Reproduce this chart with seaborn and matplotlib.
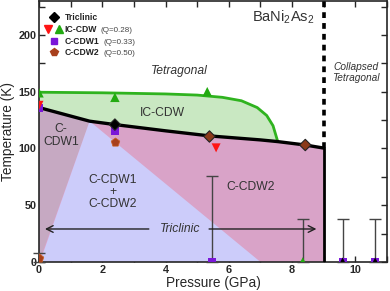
import numpy as np
import pandas as pd
import matplotlib
matplotlib.use("Agg")
import matplotlib.pyplot as plt
import seaborn as sns
from matplotlib.legend_handler import HandlerTuple
from matplotlib.lines import Line2D

# --- phase boundaries ---
cdw_line_p = [0, 1.6, 2.4, 4.0, 5.4, 7.0, 7.55, 8.42, 9.0]
cdw_line_T = [136, 124, 121, 115.5, 111, 107.5, 106, 103, 100.3]

ic_line_p = [0, 2.0, 4.0, 5.0, 5.8, 6.4, 6.9, 7.2, 7.4, 7.55]
ic_line_T = [149.5, 149, 148, 147, 145, 142, 136, 129, 120, 106]

# --- data points ---
tri_p = [2.4, 5.39, 8.42]
tri_T = [121, 110.5, 103]
ic_up_p = [0, 2.4, 5.32, 8.34]
ic_up_T = [149, 145, 150, 0]
ic_down_p = [0, 5.6]
ic_down_T = [138, 100.5]
c1_p = [0, 2.4, 5.47, 9.6, 10.63]
c1_T = [136, 115, 0, 0, 0]
c2_p = [0, 2.4]
c2_T = [3, 105.5]
ct_p = [9.6, 10.63]
ct_T = [0, 0]

err_p = [0, 5.47, 8.34, 9.6, 10.63]
err_T = [0, 0, 0, 0, 0]
err_up = [8, 76, 38, 38, 38]

leg_names = ["Triclinic", "IC-CDW", "C-CDW1", "C-CDW2"]
leg_q = ["", "(Q=0.28)", "(Q=0.33)", "(Q=0.50)"]

sns.set_theme(style="ticks")
plt.rcParams['font.family'] = ['Liberation Sans', 'DejaVu Sans']
plt.rcParams['mathtext.fontset'] = 'custom'
plt.rcParams['mathtext.rm'] = 'Liberation Sans'

fig = plt.figure(figsize=(3.9, 2.91), dpi=100)
ax = fig.add_axes([0.1, 0.1, 0.892, 0.897])

green = "#2fb31f"
pink = "#d9a3c8"
blue = "#ccccfa"
mauve = "#c6a9c2"
txt = "#333333"

# regions
cdw_poly = list(zip(cdw_line_p, cdw_line_T)) + [(9.0, 0), (0, 0)]
ax.fill(*zip(*cdw_poly), color=pink, lw=0, zorder=1)
ax.fill([0, 0, cdw_line_p[1]], [0, cdw_line_T[0], cdw_line_T[1]], color=mauve, lw=0, zorder=1)
ax.fill([0.03, cdw_line_p[1], 7.0], [0, cdw_line_T[1], 0], color=blue, lw=0, zorder=1)
ic_poly = list(zip(ic_line_p, ic_line_T)) + list(zip(cdw_line_p[:7][::-1], cdw_line_T[:7][::-1]))
ax.fill(*zip(*ic_poly), color="#c9e8c2", lw=0, zorder=1)

# boundary lines
sns.lineplot(x=ic_line_p, y=ic_line_T, sort=False, color=green, lw=2, ax=ax, zorder=3)
sns.lineplot(x=cdw_line_p, y=cdw_line_T, sort=False, color="black", lw=2.4, ax=ax, zorder=3)
ax.plot([9, 9], [0, cdw_line_T[-1]], color="black", lw=2, zorder=3)
ax.plot([9, 9], [cdw_line_T[-1], 230], color="black", lw=2.6, ls=(0, (1.6, 1.4)), zorder=3)

# error bars
ax.errorbar(err_p, err_T, yerr=[[0] * len(err_up), err_up], fmt="none",
            ecolor="#444444", elinewidth=1, capsize=4.3, capthick=1, zorder=4, clip_on=False)

# triclinic arrow
ax.annotate("", xy=(0.1, 29), xytext=(3.56, 29),
            arrowprops=dict(arrowstyle="->", color="#222222", lw=1), zorder=4)
ax.annotate("", xy=(8.86, 29), xytext=(5.29, 29),
            arrowprops=dict(arrowstyle="->", color="#222222", lw=1), zorder=4)

# points
ms = 42
sns.scatterplot(x=c2_p, y=c2_T, marker="p", color="#a8401c", edgecolor="#c86020", s=ms, ax=ax, zorder=5)
sns.scatterplot(x=c1_p, y=c1_T, marker="s", color="#7a16d8", edgecolor="none", s=ms * 0.8, ax=ax, zorder=5)
sns.scatterplot(x=ic_down_p, y=ic_down_T, marker="v", color="#ff1414", edgecolor="none", s=ms, ax=ax, zorder=6)
sns.scatterplot(x=ic_up_p, y=ic_up_T, marker="^", color="#22aa11", edgecolor="none", s=ms * 1.1, ax=ax, zorder=6)
sns.scatterplot(x=ct_p, y=ct_T, marker="^", color="black", edgecolor="none", s=ms, ax=ax, zorder=6)
sns.scatterplot(x=tri_p, y=tri_T, marker="D", color=["black", "#8b3a1a", "#8b3a1a"],
                edgecolor="#222222", linewidth=0.8, s=ms * 0.8, ax=ax, zorder=7)

# text labels
fs = 8.7
ax.text(4.45, 168, "Tetragonal", style="italic", fontsize=fs, color=txt, ha="center", va="center")
ax.text(3.9, 131, "IC-CDW", fontsize=fs, color=txt, ha="center", va="center")
ax.text(0.7, 111.5, "C-\nCDW1", fontsize=fs, color=txt, ha="center", va="center", linespacing=1.05)
ax.text(2.34, 62, "C-CDW1\n+\nC-CDW2", fontsize=fs, color=txt, ha="center", va="center", linespacing=1.0)
ax.text(6.7, 66.4, "C-CDW2", fontsize=fs, color=txt, ha="center", va="center")
ax.text(4.45, 29, "Triclinic", style="italic", fontsize=fs, color=txt, ha="center", va="center")
ax.text(7.73, 216, r"BaNi$_2$As$_2$", fontsize=10.5, color=txt, ha="center", va="center")
ax.text(10.03, 167, "Collapsed\nTetragonal", style="italic", fontsize=7.3, color=txt,
        ha="center", va="center", linespacing=1.1)

# legend
h_tri = Line2D([], [], marker="D", color="black", ls="none", markersize=5)
h_down = Line2D([], [], marker="v", color="#ff1414", ls="none", markersize=6)
h_up = Line2D([], [], marker="^", color="#22aa11", ls="none", markersize=6)
h_c1 = Line2D([], [], marker="s", color="#7a16d8", ls="none", markersize=5)
h_c2 = Line2D([], [], marker="p", color="#a8401c", ls="none", markersize=6)
leg = ax.legend([h_tri, (h_down, h_up), h_c1, h_c2], leg_names,
                handler_map={tuple: HandlerTuple(ndivide=None, pad=0.4)},
                loc="upper left", bbox_to_anchor=(0.0, 0.972), frameon=False,
                prop={"size": 6.2, "weight": "bold"}, handlelength=2.2,
                handletextpad=0.15, labelspacing=0.3, borderaxespad=0.2)
fig.canvas.draw()
for t, q in zip(leg.get_texts(), leg_q):
    t.set_color("#222222")
    if q:
        ax.annotate(q, xy=(1, 0), xycoords=t, xytext=(3, 0), textcoords="offset points",
                    fontsize=5.8, color="#444444", va="bottom", ha="left", zorder=10)

ax.set_xlim(0, 11)
ax.set_ylim(0, 230)
ax.set_xticks([0, 2, 4, 6, 8, 10])
ax.set_xticks(np.arange(0, 11.1, 1), minor=True)
ax.set_yticks([0, 50, 100, 150, 200])
ax.set_yticks(np.arange(0, 230, 25), minor=True)
ax.tick_params(which="both", direction="in", top=True, right=True, width=1, labelsize=7.8, pad=2)
ax.tick_params(which="major", length=4)
ax.tick_params(which="minor", length=4)
for lab in ax.get_xticklabels() + ax.get_yticklabels():
    lab.set_fontweight("bold")
for s in ax.spines.values():
    s.set_linewidth(1.2)
ax.set_xlabel("Pressure (GPa)", fontsize=9.8, labelpad=1)
ax.set_ylabel("Temperature (K)", fontsize=9.8, labelpad=2)

fig.savefig("out.png", dpi=100)
